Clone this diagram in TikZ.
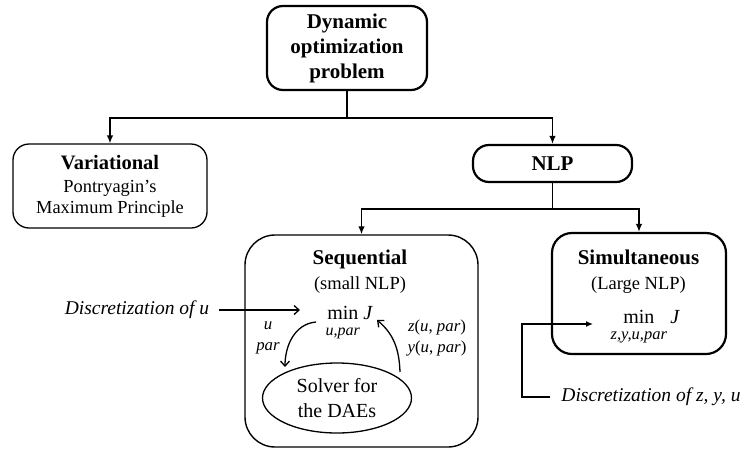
\documentclass[tikz,border=0pt]{standalone}
\usepackage{fontspec}
\setmainfont{Liberation Serif}
\usepackage{amsmath}
\usetikzlibrary{arrows.meta,shapes.geometric}
\begin{document}
\begin{tikzpicture}[x=1pt,y=-1pt,
  thickbox/.style={draw,line width=2.2pt,rounded corners=16pt,align=center,inner sep=0pt},
  thinbox/.style={draw,line width=1.3pt,rounded corners=16pt,align=center,inner sep=0pt},
  conn/.style={line width=1.4pt,-{Latex[length=8pt,width=6.5pt]}},
  barb/.style={line width=1.3pt,-{Straight Barb[length=5pt,width=9pt]}},
  titlebox/.style={align=center,inner sep=0pt,font=\fontsize{18.5}{25}\selectfont},
  disc/.style={font=\fontsize{19.5}{22}\selectfont\itshape,inner sep=2pt},
  lbl/.style={font=\fontsize{16.8}{21}\selectfont,align=center,inner sep=0pt}]
\fill[white] (0,0) rectangle (750,459);
\useasboundingbox (0,0) rectangle (750,459);

% boxes
\node[thickbox,minimum width=160pt,minimum height=84pt,font=\fontsize{21}{25}\selectfont\bfseries] (top) at (347,48) {Dynamic\\optimization\\problem};
\node[thinbox,minimum width=194pt,minimum height=84pt,font=\fontsize{18.4}{21}\selectfont] (var) at (110,186) {{\fontsize{20.5}{21}\selectfont\bfseries Variational}\\[2pt]Pontryagin’s\\Maximum Principle};
\node[thickbox,minimum width=159pt,minimum height=37pt,font=\fontsize{21}{25}\selectfont\bfseries] (nlp) at (552.5,163.5) {NLP};
\node[draw,line width=1.4pt,rounded corners=30pt,minimum width=233pt,minimum height=212pt] (seq) at (361.5,341) {};
\node[thickbox,rounded corners=20pt,minimum width=174pt,minimum height=121pt] (sim) at (639,293.5) {};

% titles inside
\node[titlebox] (seqT) at (360,272) {{\fontsize{21}{24}\selectfont\bfseries Sequential}\\(small NLP)};
\node[titlebox] (simT) at (638.5,272) {{\fontsize{21}{24}\selectfont\bfseries Simultaneous}\\(Large NLP)};

% sequential content
\node[anchor=base,inner sep=0pt,font=\fontsize{20}{22}\selectfont] (minS) at (349,319) {$\mathop{\text{min}}\limits_{\raisebox{-4pt}{\fontsize{16}{16}\selectfont\itshape u,par}}\textit{J}$};
\node[draw,ellipse,line width=1.3pt,minimum width=149pt,minimum height=70pt,inner sep=0pt,align=center,font=\fontsize{20}{25}\selectfont] (solver) at (337,398) {Solver for\\the DAEs};
\node[lbl,font=\fontsize{16.8}{21}\selectfont\itshape] (lblL) at (268,338) {u\\par};
\node[lbl] (lblR) at (437,338) {\textit{z}(\textit{u}, \textit{par})\\\textit{y}(\textit{u}, \textit{par})};

\coordinate (lStart) at (316,322);
\coordinate (lEnd) at (285,367);
\coordinate (rStart) at (400,372);
\coordinate (rEnd) at (377,320);
\draw[barb] (lStart) to[out=185,in=90] (lEnd);
\draw[barb] (rStart) to[out=92,in=-40] (rEnd);

% simultaneous content
\node[anchor=base,inner sep=0pt,font=\fontsize{20}{22}\selectfont] (minT) at (645,323) {$\mathop{\text{min}}\limits_{\raisebox{-4pt}{\fontsize{16.5}{16}\selectfont\itshape z,y,u,par}}\textit{J}$};

% discretization texts
\node[disc] (discU) at (137,310) {Discretization of u};
\coordinate (uEnd) at (300,311);
\draw[barb,shorten <=8pt] (discU.east) -- (discU.east -| uEnd);

\node[disc] (discZ) at (651,397) {Discretization of z, y, u};
\coordinate (zTurn) at (522,397);
\coordinate (zEnd) at (593,324);
\draw[line width=1.3pt,-{Latex[length=7pt,width=6pt]},shorten <=9pt] (discZ.west) -- (zTurn) |- (zEnd);

% tree connectors
\draw[conn] (top.south) -- ++(0,27) -| (var.north);
\draw[conn] (top.south) -- ++(0,27) -| (nlp.north);
\draw[conn] (nlp.south) -- ++(0,26) -| (seq.north);
\draw[conn] (nlp.south) -- ++(0,26) -| (sim.north);
\end{tikzpicture}
\end{document}
